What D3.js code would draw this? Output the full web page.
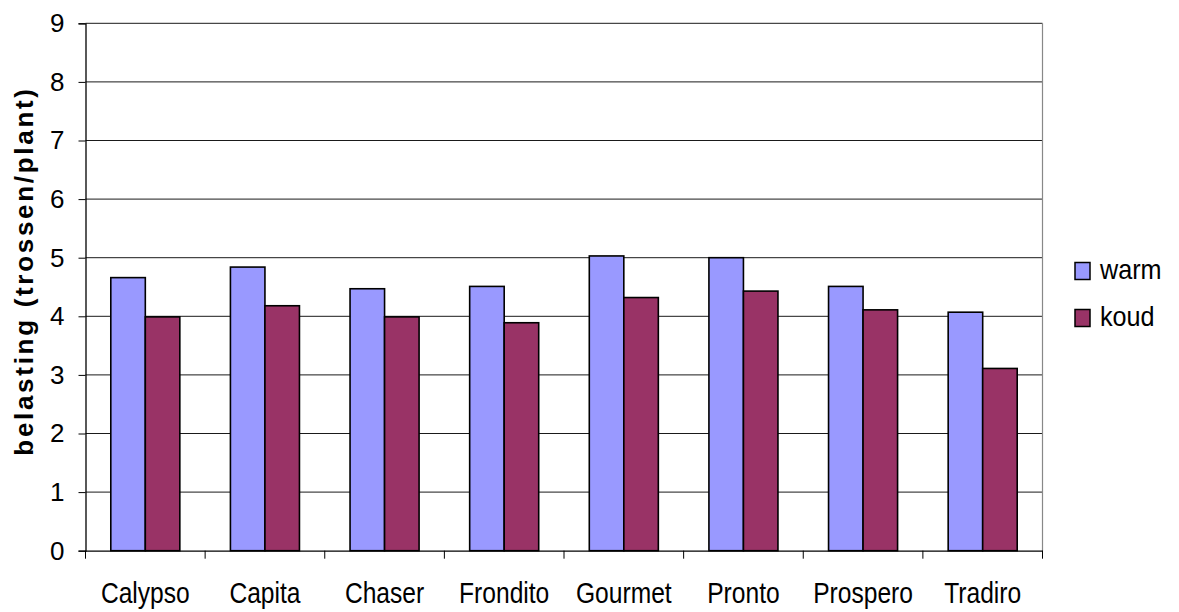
<!DOCTYPE html>
<html>
<head>
<meta charset="utf-8">
<script src="https://cdn.jsdelivr.net/npm/d3@7"></script>
<style>
  html, body { margin: 0; padding: 0; background: #fff; }
  svg { display: block; }
  text { font-family: "Liberation Sans", Arial, sans-serif; fill: #000; }
</style>
</head>
<body>
<svg id="chart" width="1179" height="612"></svg>
<script>
const categories = ["Calypso", "Capita", "Chaser", "Frondito", "Gourmet", "Pronto", "Prospero", "Tradiro"];
const seriesNames = ["warm", "koud"];
const warmValues = [4.66, 4.84, 4.47, 4.51, 5.03, 5.00, 4.51, 4.07];
const koudValues = [3.99, 4.18, 3.99, 3.89, 4.32, 4.43, 4.11, 3.11];
const yTicks = [0, 1, 2, 3, 4, 5, 6, 7, 8, 9];
const yTitle = "belasting (trossen/plant)";
const colors = { warm: "#9999FF", koud: "#993366" };

const data = categories.map((c, i) => ({ cat: c, warm: warmValues[i], koud: koudValues[i] }));

const svg = d3.select("#chart");
const plotLeft = 85.5, plotRight = 1042.5, plotTop = 23.3, plotBottom = 550.7;

const x0 = d3.scaleBand().domain(categories).range([plotLeft, plotRight]).padding(0);
const x1 = d3.scaleBand().domain(seriesNames).range([0, x0.bandwidth()]).paddingInner(0).paddingOuter(0.733);
const y = d3.scaleLinear().domain([0, 9]).range([plotBottom, plotTop]);

// gridlines
svg.append("g").selectAll("line").data(yTicks.filter(t => t > 0)).join("line")
  .attr("x1", plotLeft).attr("x2", plotRight)
  .attr("y1", d => y(d)).attr("y2", d => y(d))
  .attr("stroke", "#1a1a1a").attr("stroke-width", 1);

// right border of plot
svg.append("line").attr("x1", plotRight).attr("x2", plotRight).attr("y1", plotTop).attr("y2", plotBottom)
  .attr("stroke", "#888").attr("stroke-width", 1.2);

// bars
const groups = svg.append("g").selectAll("g").data(data).join("g")
  .attr("transform", d => `translate(${x0(d.cat)},0)`);
groups.selectAll("rect").data(d => seriesNames.map(s => ({ s, v: d[s] }))).join("rect")
  .attr("x", d => x1(d.s))
  .attr("width", x1.bandwidth())
  .attr("y", d => y(d.v))
  .attr("height", d => y(0) - y(d.v))
  .attr("fill", d => colors[d.s])
  .attr("stroke", "#000").attr("stroke-width", 1.6);

// y axis
const yAxis = d3.axisLeft(y).tickValues(yTicks).tickSize(7).tickPadding(14).tickFormat(d3.format("d"));
const gy = svg.append("g").attr("transform", `translate(${plotLeft},0)`).call(yAxis);
gy.select(".domain").attr("stroke", "#000").attr("stroke-width", 1.3);
gy.selectAll(".tick line").attr("stroke", "#000");
gy.selectAll(".tick text").style("font-size", "26px").style("font-family", "'Liberation Sans', Arial, sans-serif").attr("fill", "#000");

// x axis with ticks at category boundaries
const xAxis = d3.axisBottom(x0).tickSize(0).tickFormat("");
const gx = svg.append("g").attr("transform", `translate(0,${plotBottom})`).call(xAxis);
gx.select(".domain").attr("stroke", "#000").attr("stroke-width", 1.3);
const boundaries = categories.map(c => x0(c)).concat([plotRight]);
svg.append("g").selectAll("line").data(boundaries).join("line")
  .attr("x1", d => d).attr("x2", d => d)
  .attr("y1", plotBottom).attr("y2", plotBottom + 8)
  .attr("stroke", "#000").attr("stroke-width", 1);

// category labels (condensed)
svg.append("g").selectAll("text").data(categories).join("text")
  .attr("transform", d => `translate(${x0(d) + x0.bandwidth() / 2},603) scale(0.82,1)`)
  .attr("text-anchor", "middle")
  .style("font-size", "30px")
  .text(d => d);

// y title
svg.append("text")
  .attr("transform", "translate(33,271) rotate(-90)")
  .attr("text-anchor", "middle")
  .style("font-size", "26px").style("font-weight", "bold").style("letter-spacing", "2.7px")
  .text(yTitle);

// legend
const legend = svg.append("g").selectAll("g").data(seriesNames).join("g")
  .attr("transform", (d, i) => `translate(1075,${262.5 + i * 47})`);
legend.append("rect").attr("width", 15).attr("height", 17)
  .attr("fill", d => colors[d]).attr("stroke", "#000").attr("stroke-width", 1.5);
legend.append("text")
  .attr("transform", "translate(25,16) scale(0.9,1)")
  .style("font-size", "28px")
  .text(d => d);
</script>
</body>
</html>
